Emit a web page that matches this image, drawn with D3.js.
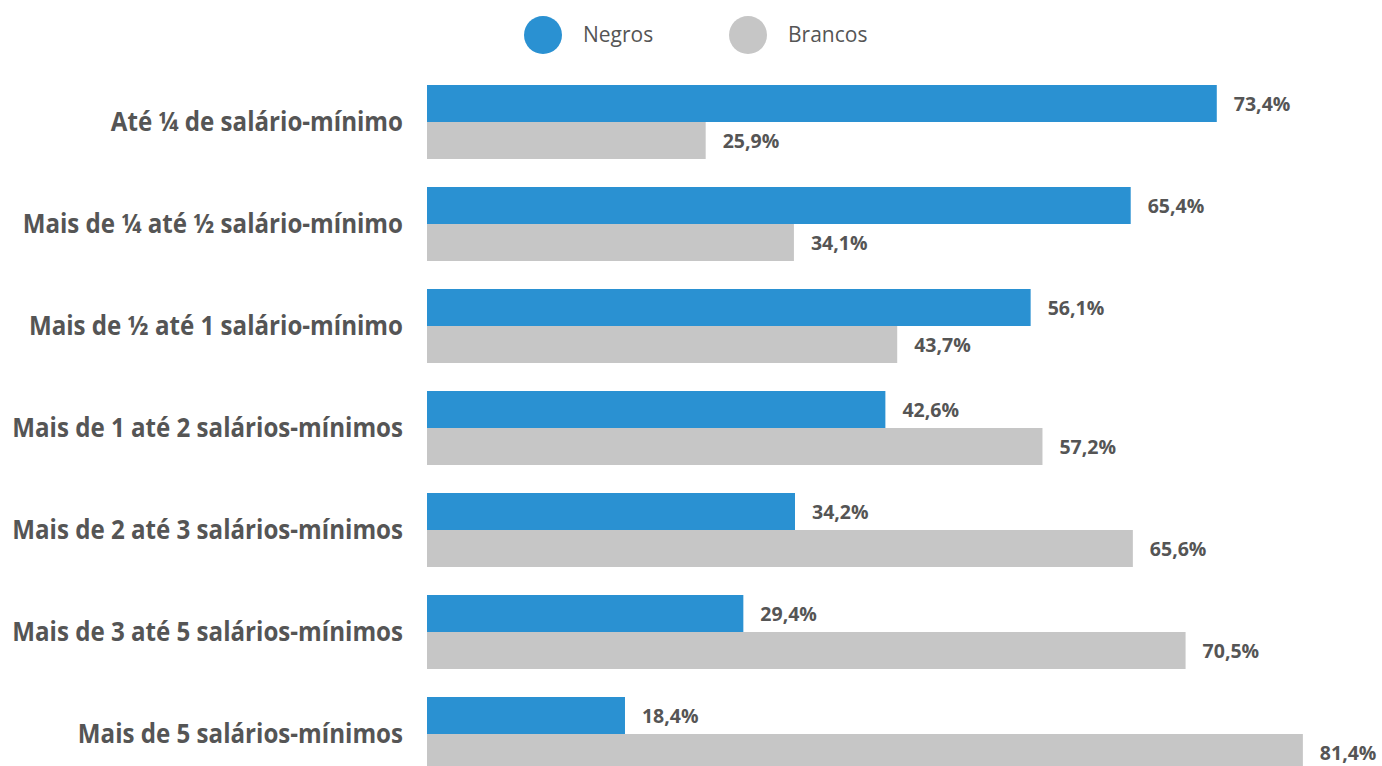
<!DOCTYPE html>
<html><head><meta charset="utf-8">
<script src="https://cdn.jsdelivr.net/npm/d3@7"></script>
<style>html,body{margin:0;padding:0;background:#fff;overflow:hidden}</style>
</head><body>
<svg id="chart" width="1382" height="766"></svg>
<script>
const categories = [
  "Até ¼ de salário-mínimo",
  "Mais de ¼ até ½ salário-mínimo",
  "Mais de ½ até 1 salário-mínimo",
  "Mais de 1 até 2 salários-mínimos",
  "Mais de 2 até 3 salários-mínimos",
  "Mais de 3 até 5 salários-mínimos",
  "Mais de 5 salários-mínimos"
];
const seriesNames = ["Negros", "Brancos"];
const negros = [73.4, 65.4, 56.1, 42.6, 34.2, 29.4, 18.4];
const brancos = [25.9, 34.1, 43.7, 57.2, 65.6, 70.5, 81.4];
const colors = ["#2a91d2", "#c6c6c6"];

const svg = d3.select("#chart");
const x = d3.scaleLinear().domain([0, 100]).range([427, 1503]);
const y = d3.scaleBand().domain(categories).range([85, 771]).paddingInner(28/102).paddingOuter(0).align(0);
const sub = d3.scaleBand().domain(seriesNames).range([0, y.bandwidth()]).padding(0);
const fmt = v => d3.format(".1f")(v).replace(".", ",") + "%";

const rows = categories.map((c, i) => ({c, vals: [negros[i], brancos[i]]}));
const g = svg.selectAll("g.row").data(rows).join("g").attr("class", "row")
  .attr("transform", d => `translate(0,${y(d.c)})`);

g.selectAll("rect").data(d => d.vals.map((v, j) => ({v, s: seriesNames[j], j})))
  .join("rect")
  .attr("x", x(0)).attr("y", d => sub(d.s))
  .attr("width", d => x(d.v) - x(0)).attr("height", sub.bandwidth())
  .attr("fill", d => colors[d.j]);

g.selectAll("text.val").data(d => d.vals.map((v, j) => ({v, s: seriesNames[j]})))
  .join("text").attr("class", "val")
  .attr("x", d => x(d.v) + 17).attr("y", d => sub(d.s) + sub.bandwidth()/2 + 1)
  .attr("dy", "0.35em")
  .attr("font-family", "Open Sans").attr("font-weight", "bold").attr("font-size", 19.5)
  .attr("fill", "#555").text(d => fmt(d.v));

// category labels
const labels = g.append("text").attr("class", "cat")
  .attr("y", y.bandwidth()/2 - 1).attr("dy", "0.35em")
  .attr("font-family", "Open Sans").attr("font-weight", "bold").attr("font-size", 27.5)
  .attr("fill", "#555").attr("text-anchor", "end")
  .text(d => d.c);
// condense horizontally so longest label spans ~391px
let maxW = 0;
labels.each(function(){ maxW = Math.max(maxW, this.getComputedTextLength()); });
const sx = 391 / maxW;
labels.attr("transform", `translate(403,0) scale(${sx},1)`).attr("x", 0);

// legend
const leg = svg.append("g");
const legX = [543, 748];
seriesNames.forEach((s, j) => {
  leg.append("circle").attr("cx", legX[j]).attr("cy", 35).attr("r", 19).attr("fill", colors[j]);
  leg.append("text").attr("x", legX[j] + 40).attr("y", 35).attr("dy", "0.35em")
    .attr("font-family", "Open Sans").attr("font-size", 21).attr("fill", "#555").text(s);
});
</script>
</body></html>
